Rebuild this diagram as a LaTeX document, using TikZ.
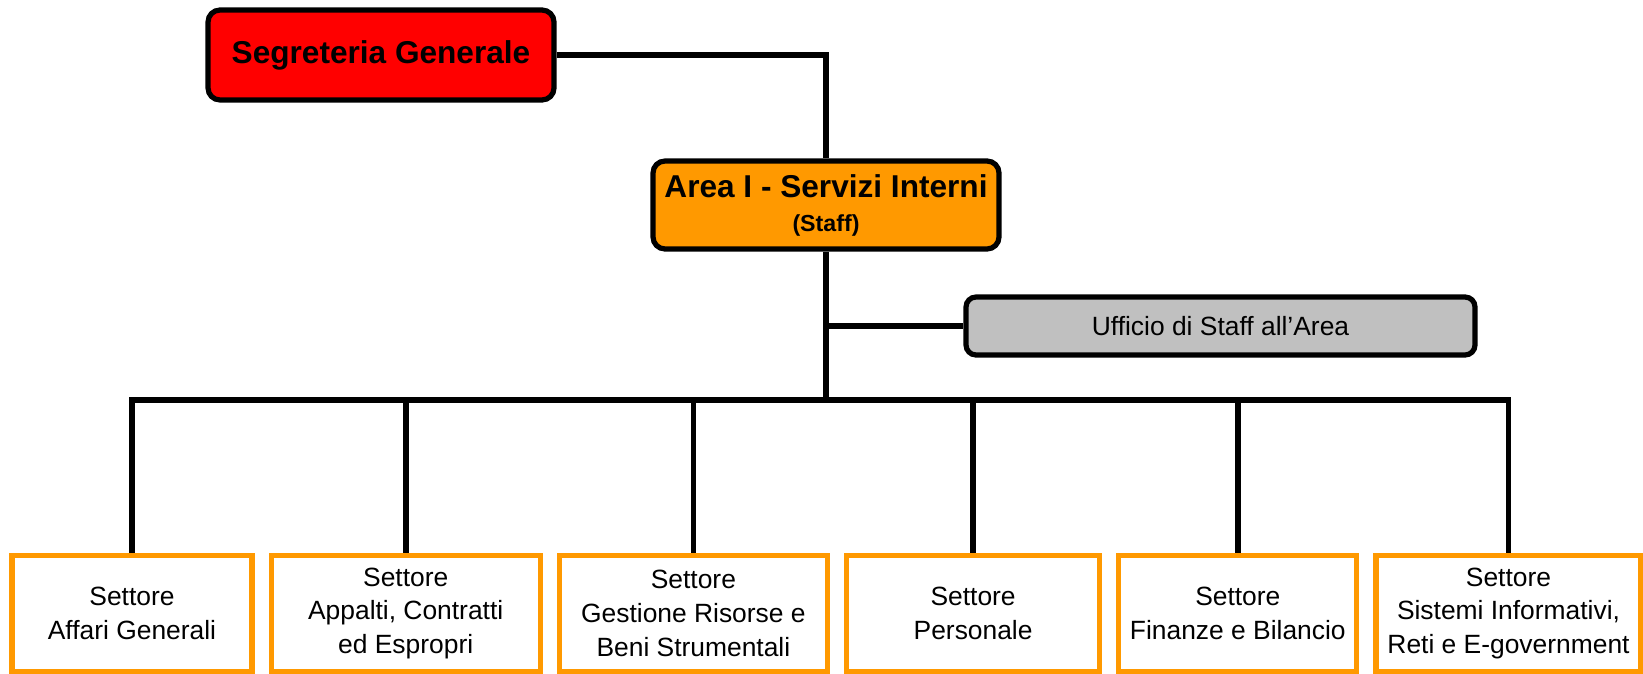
\documentclass[tikz,border=0pt]{standalone}
\usepackage{fontspec}
\setmainfont{Liberation Sans}
\usetikzlibrary{positioning}
\definecolor{segred}{HTML}{FF0000}
\definecolor{areaorange}{HTML}{FF9900}
\definecolor{staffgray}{HTML}{C0C0C0}

\begin{document}
\begin{tikzpicture}[
x=0.5pt, y=-0.5pt,
headnode/.style={rectangle, rounded corners=6pt, draw=black, fill=segred, line width=2.6pt, minimum width=173pt, minimum height=45pt, font=\fontsize{15.8}{19}\selectfont\bfseries},
areanode/.style={rectangle, rounded corners=6pt, draw=black, fill=areaorange, line width=2.6pt, minimum width=173pt, minimum height=44pt, align=center, font=\fontsize{15.8}{19}\selectfont\bfseries},
staffnode/.style={rectangle, rounded corners=5pt, draw=black, fill=staffgray, line width=2.6pt, minimum width=254.5pt, minimum height=29pt, font=\fontsize{13.2}{16}\selectfont},
settorenode/.style={rectangle, draw=areaorange, fill=white, line width=2.6pt, minimum height=58pt, align=center, font=\fontsize{13.2}{16.8}\selectfont},
link/.style={line width=2.8pt},
node distance=7pt
]
\useasboundingbox (0,0) rectangle (1643,674);

%Nodes
\node[headnode] (seg) at (381,55) {Segreteria Generale};
\node[areanode] (area) at (826,205) {Area I - Servizi Interni\\[-2pt]{\fontsize{11.6}{14}\selectfont (Staff)}};
\node[staffnode] (staff) at (1220.5,326) {Ufficio di Staff all’Area};

\node[settorenode, minimum width=120pt] (sett1) at (132,613.4) {Settore\\Affari Generali};
\node[settorenode, minimum width=134.5pt] (sett2) [right=of sett1] {Settore\\Appalti, Contratti\\ed Espropri};
\node[settorenode, minimum width=134pt] (sett3) [right=of sett2] {Settore\\Gestione Risorse e\\Beni Strumentali};
\node[settorenode, minimum width=126.5pt] (sett4) [right=of sett3] {Settore\\Personale};
\node[settorenode, minimum width=119pt] (sett5) [right=of sett4] {Settore\\Finanze e Bilancio};
\node[settorenode, minimum width=132.5pt] (sett6) [right=of sett5] {Settore\\Sistemi Informativi,\\Reti e E-government};

\coordinate (bus) at (826,400);

%Lines
\draw[link] (seg.east) -| (area.north);
\draw[link] (area.south) -- (bus);
\draw[link] (area.south |- staff.west) -- (staff.west);
\draw[link] (sett1.north) |- (bus) -| (sett6.north);
\foreach \n in {2,...,5}
  \draw[link] (sett\n.north) -- (sett\n.north |- bus);
\end{tikzpicture}
\end{document}
